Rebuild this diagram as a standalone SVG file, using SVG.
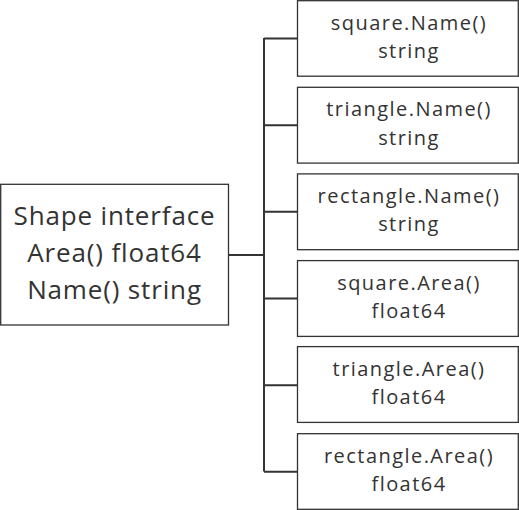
<svg xmlns="http://www.w3.org/2000/svg" width="519" height="510" viewBox="0 0 519 510">
<style>
.box{fill:#fff;stroke:#333;stroke-width:1.3}
.lbl{font-family:"Open Sans","DejaVu Sans",sans-serif;fill:#333;text-anchor:middle}
.big{font-size:26px;letter-spacing:0.85px}
.sm{font-size:20px;letter-spacing:1.45px}
.con{fill:none;stroke:#333;stroke-width:2}
</style>
<rect width="519" height="510" fill="#fff"/>
<g id="connectors">
<path class="con" d="M228.5 255H264M264 38V471.5M264 38.5H297.5M264 125.2H297.5M264 211.8H297.5M264 298.5H297.5M264 385.2H297.5M264 471.8H297.5"/>
</g>
<g id="shape">
<rect class="box" x="0.7" y="184.3" width="227.8" height="140.7"/>
<text class="lbl big" x="114.5" y="225">Shape interface</text>
<text class="lbl big" x="114.5" y="262">Area() float64</text>
<text class="lbl big" x="114.5" y="299">Name() string</text>
</g>
<g id="squareName">
<rect class="box" x="297.5" y="0.7" width="220.8" height="75.5"/>
<text class="lbl sm" x="409" y="29.5">square.Name()</text>
<text class="lbl sm" x="409" y="58">string</text>
</g>
<g id="triangleName">
<rect class="box" x="297.5" y="87.3" width="220.8" height="75.8"/>
<text class="lbl sm" x="409" y="116.2">triangle.Name()</text>
<text class="lbl sm" x="409" y="144.7">string</text>
</g>
<g id="rectangleName">
<rect class="box" x="297.5" y="173.9" width="220.8" height="75.8"/>
<text class="lbl sm" x="409" y="202.8">rectangle.Name()</text>
<text class="lbl sm" x="409" y="231.3">string</text>
</g>
<g id="squareArea">
<rect class="box" x="297.5" y="260.6" width="220.8" height="75.8"/>
<text class="lbl sm" x="409" y="289.5">square.Area()</text>
<text class="lbl sm" x="409" y="318">float64</text>
</g>
<g id="triangleArea">
<rect class="box" x="297.5" y="346.6" width="220.8" height="75.8"/>
<text class="lbl sm" x="409" y="375.5">triangle.Area()</text>
<text class="lbl sm" x="409" y="404">float64</text>
</g>
<g id="rectangleArea">
<rect class="box" x="297.5" y="433.7" width="220.8" height="75.6"/>
<text class="lbl sm" x="409" y="462.6">rectangle.Area()</text>
<text class="lbl sm" x="409" y="491.1">float64</text>
</g>
</svg>
